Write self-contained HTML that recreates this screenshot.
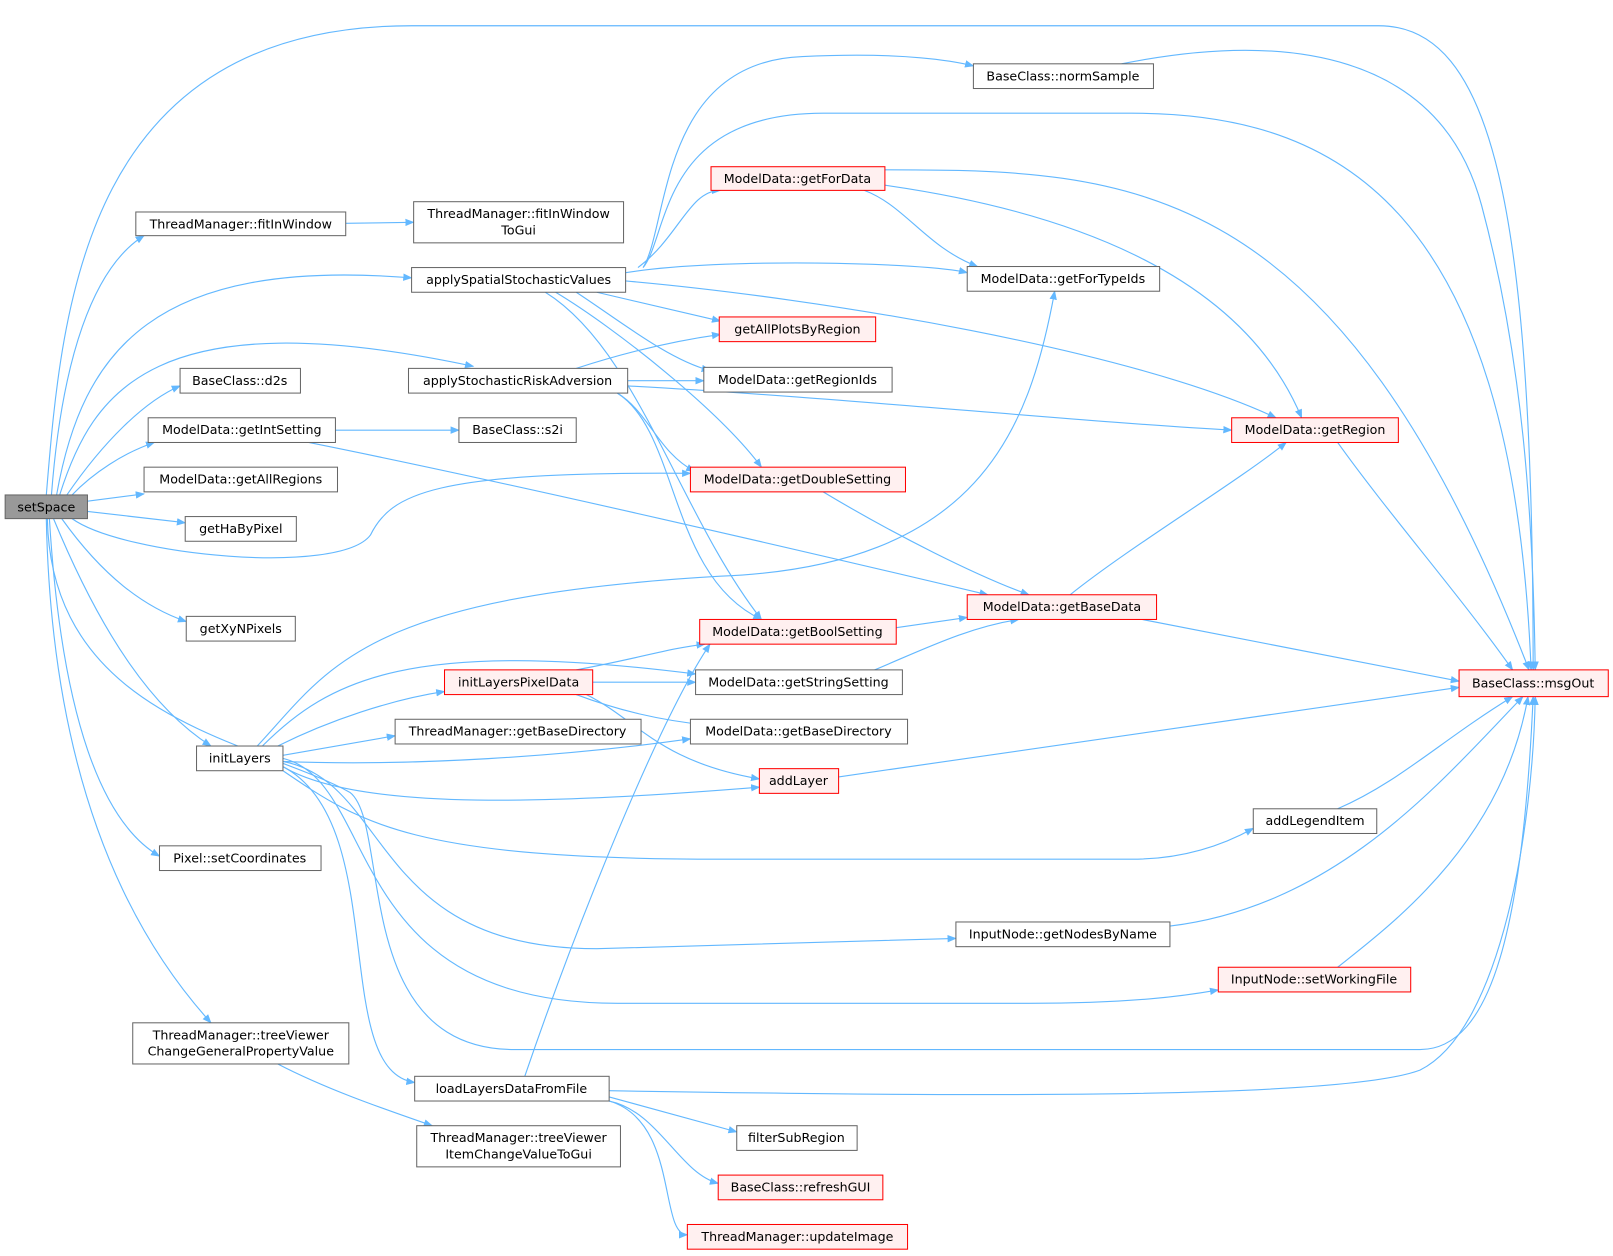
<!DOCTYPE html>
<html><head><meta charset="utf-8"><style>
html,body{margin:0;padding:0;background:#fff}
svg{display:block}
text{font-family:"DejaVu Sans","Liberation Sans",sans-serif;font-size:12.3px;fill:#000;text-anchor:middle}
.e{fill:none;stroke:#63b8ff;stroke-width:1.1}
.n{fill:#fff;stroke:#666;stroke-width:1}
.r{fill:#fff0f0;stroke:#f00;stroke-width:1}
</style></head><body>
<svg width="1613" height="1256" viewBox="0 0 1567.6 1220.6">
<defs><marker id="a" viewBox="0 0 10 10" refX="9" refY="5" markerWidth="9" markerHeight="9" orient="auto" markerUnits="userSpaceOnUse"><path d="M0,1 L10,5 L0,9 z" fill="#63b8ff"/></marker></defs>
<g marker-end="url(#a)">
<path class="e" d="M45,481 C60,300 80,25 400,25 L1340,25 C1450,25 1490,200 1490,651"/>
<path class="e" d="M50,481 C60,350 90,260 140,229"/>
<path class="e" d="M55,481 C80,340 150,250 400,270"/>
<path class="e" d="M58,481 C90,380 150,290 460,356"/>
<path class="e" d="M65,481 C100,430 140,390 175,375"/>
<path class="e" d="M70,481 C90,460 120,440 150,430"/>
<path class="e" d="M85,487 L140,480"/>
<path class="e" d="M85,497 L180,508"/>
<path class="e" d="M70,504 C120,540 330,560 360,520 C380,480 420,458 671,460"/>
<path class="e" d="M60,504 C100,560 140,590 181,604"/>
<path class="e" d="M52,504 C100,620 150,690 205,725"/>
<path class="e" d="M48,504 C60,700 100,800 155,832"/>
<path class="e" d="M45,504 C50,750 120,900 205,994"/>
<path class="e" d="M46,504 C50,700 250,720 340,770 C380,800 340,1020 500,1020 L1380,1020 C1450,1020 1480,900 1490,677"/>
<path class="e" d="M336,217 L402,216"/>
<path class="e" d="M625,260 C650,220 640,60 780,55 C880,50 930,60 946,64"/>
<path class="e" d="M625,260 C650,230 640,110 800,110 L1100,110 C1300,110 1470,200 1488,651"/>
<path class="e" d="M620,260 C660,230 670,185 700,185"/>
<path class="e" d="M608,265 C700,250 900,255 940,265"/>
<path class="e" d="M608,273 C800,290 1100,340 1240,406"/>
<path class="e" d="M580,284 L700,312"/>
<path class="e" d="M560,284 C600,310 650,350 690,360"/>
<path class="e" d="M540,284 C600,320 700,400 740,454"/>
<path class="e" d="M530,284 C620,340 660,500 740,602"/>
<path class="e" d="M560,358 C600,345 650,332 700,325"/>
<path class="e" d="M610,370 L684,370"/>
<path class="e" d="M610,375 C800,385 1050,410 1197,418"/>
<path class="e" d="M600,382 C630,400 640,440 675,458"/>
<path class="e" d="M600,382 C660,420 650,560 740,602"/>
<path class="e" d="M326,418 L446,418"/>
<path class="e" d="M300,430 C500,470 800,540 960,578"/>
<path class="e" d="M860,165 C1100,165 1300,170 1486,651"/>
<path class="e" d="M840,185 C880,200 900,240 950,259"/>
<path class="e" d="M860,180 C1000,200 1200,250 1265,406"/>
<path class="e" d="M1090,62 C1250,30 1400,50 1440,200 C1480,350 1490,500 1492,651"/>
<path class="e" d="M1300,430 C1350,500 1420,580 1470,651"/>
<path class="e" d="M800,478 C870,520 950,560 1000,578"/>
<path class="e" d="M1040,578 C1100,530 1200,470 1250,430"/>
<path class="e" d="M1110,602 L1418,662"/>
<path class="e" d="M871,610 L940,600"/>
<path class="e" d="M850,651 C900,630 940,610 990,602"/>
<path class="e" d="M560,651 C620,640 650,630 685,626"/>
<path class="e" d="M576,663 L676,663"/>
<path class="e" d="M560,675 C600,690 640,700 690,705"/>
<path class="e" d="M570,675 C620,700 640,740 738,757"/>
<path class="e" d="M815,755 L1418,668"/>
<path class="e" d="M1300,786 C1360,760 1400,720 1470,677"/>
<path class="e" d="M1137,900 C1300,880 1400,760 1480,677"/>
<path class="e" d="M1300,940 C1350,900 1460,820 1485,677"/>
<path class="e" d="M510,1046 C560,900 640,700 690,626"/>
<path class="e" d="M592,1060 C900,1065 1300,1070 1380,1040 C1460,1000 1490,800 1492,677"/>
<path class="e" d="M592,1066 L716,1100"/>
<path class="e" d="M592,1070 C640,1080 660,1140 698,1150"/>
<path class="e" d="M592,1070 C660,1090 640,1200 668,1200"/>
<path class="e" d="M270,1034 C320,1060 380,1080 420,1094"/>
<path class="e" d="M250,725 C320,650 350,580 700,560 C950,550 1000,420 1025,283"/>
<path class="e" d="M255,725 C320,660 400,620 676,655"/>
<path class="e" d="M270,725 C320,700 380,680 432,672"/>
<path class="e" d="M275,734 L384,715"/>
<path class="e" d="M275,740 C400,745 550,735 671,718"/>
<path class="e" d="M275,745 C350,790 550,780 738,765"/>
<path class="e" d="M275,749 C350,800 400,835 700,835 L1100,835 C1160,835 1200,815 1218,805"/>
<path class="e" d="M275,740 C380,760 360,922 580,922 L929,912"/>
<path class="e" d="M275,737 C370,760 330,975 600,975 L1000,975 C1100,975 1150,968 1184,962"/>
<path class="e" d="M275,745 C380,800 320,1040 403,1052"/>
</g>
<g>
<rect x="5" y="481" width="80" height="23" fill="#999" stroke="#666"/><text x="45" y="497">setSpace</text>
<rect class="n" x="132" y="206" width="204" height="23"/><text x="234" y="222">ThreadManager::fitInWindow</text>
<rect class="n" x="402" y="196" width="204" height="40"/><text x="504" y="212">ThreadManager::fitInWindow</text><text x="504" y="228">ToGui</text>
<rect class="n" x="400" y="260" width="208" height="24"/><text x="504" y="276">applySpatialStochasticValues</text>
<rect class="n" x="175" y="358" width="117" height="24"/><text x="233" y="374">BaseClass::d2s</text>
<rect class="n" x="397" y="358" width="213" height="24"/><text x="503" y="374">applyStochasticRiskAdversion</text>
<rect class="n" x="144" y="406" width="182" height="24"/><text x="235" y="422">ModelData::getIntSetting</text>
<rect class="n" x="446" y="406" width="114" height="24"/><text x="503" y="422">BaseClass::s2i</text>
<rect class="n" x="140" y="454" width="188" height="24"/><text x="234" y="470">ModelData::getAllRegions</text>
<rect class="n" x="180" y="502" width="108" height="24"/><text x="234" y="518">getHaByPixel</text>
<rect class="n" x="181" y="599" width="106" height="24"/><text x="234" y="615">getXyNPixels</text>
<rect class="n" x="191" y="725" width="84" height="24"/><text x="233" y="741">initLayers</text>
<rect class="n" x="155" y="822" width="157" height="24"/><text x="233" y="838">Pixel::setCoordinates</text>
<rect class="n" x="129" y="994" width="210" height="40"/><text x="234" y="1010">ThreadManager::treeViewer</text><text x="234" y="1026">ChangeGeneralPropertyValue</text>
<rect class="n" x="403" y="1046" width="189" height="24"/><text x="497" y="1062">loadLayersDataFromFile</text>
<rect class="n" x="405" y="1094" width="198" height="40"/><text x="504" y="1110">ThreadManager::treeViewer</text><text x="504" y="1126">ItemChangeValueToGui</text>
<rect class="n" x="946" y="62" width="175" height="24"/><text x="1033" y="78">BaseClass::normSample</text>
<rect class="r" x="691" y="162" width="169" height="23"/><text x="775" y="178">ModelData::getForData</text>
<rect class="n" x="940" y="259" width="187" height="24"/><text x="1033" y="275">ModelData::getForTypeIds</text>
<rect class="r" x="699" y="308" width="152" height="24"/><text x="775" y="324">getAllPlotsByRegion</text>
<rect class="n" x="684" y="357" width="183" height="24"/><text x="775" y="373">ModelData::getRegionIds</text>
<rect class="r" x="1197" y="406" width="162" height="24"/><text x="1278" y="422">ModelData::getRegion</text>
<rect class="r" x="671" y="454" width="209" height="24"/><text x="775" y="470">ModelData::getDoubleSetting</text>
<rect class="r" x="940" y="578" width="184" height="24"/><text x="1032" y="594">ModelData::getBaseData</text>
<rect class="r" x="680" y="602" width="191" height="24"/><text x="775" y="618">ModelData::getBoolSetting</text>
<rect class="n" x="676" y="651" width="201" height="24"/><text x="776" y="667">ModelData::getStringSetting</text>
<rect class="r" x="432" y="651" width="144" height="24"/><text x="504" y="667">initLayersPixelData</text>
<rect class="n" x="384" y="699" width="239" height="24"/><text x="503" y="715">ThreadManager::getBaseDirectory</text>
<rect class="n" x="671" y="699" width="211" height="24"/><text x="776" y="715">ModelData::getBaseDirectory</text>
<rect class="r" x="738" y="747" width="77" height="24"/><text x="776" y="763">addLayer</text>
<rect class="n" x="1218" y="786" width="120" height="24"/><text x="1278" y="802">addLegendItem</text>
<rect class="r" x="1418" y="651" width="145" height="26"/><text x="1490" y="668">BaseClass::msgOut</text>
<rect class="n" x="929" y="896" width="208" height="24"/><text x="1033" y="912">InputNode::getNodesByName</text>
<rect class="r" x="1184" y="940" width="187" height="24"/><text x="1277" y="956">InputNode::setWorkingFile</text>
<rect class="n" x="716" y="1094" width="117" height="24"/><text x="774" y="1110">filterSubRegion</text>
<rect class="r" x="698" y="1142" width="160" height="24"/><text x="778" y="1158">BaseClass::refreshGUI</text>
<rect class="r" x="668" y="1190" width="214" height="24"/><text x="775" y="1206">ThreadManager::updateImage</text>
</g>
</svg>
</body></html>
